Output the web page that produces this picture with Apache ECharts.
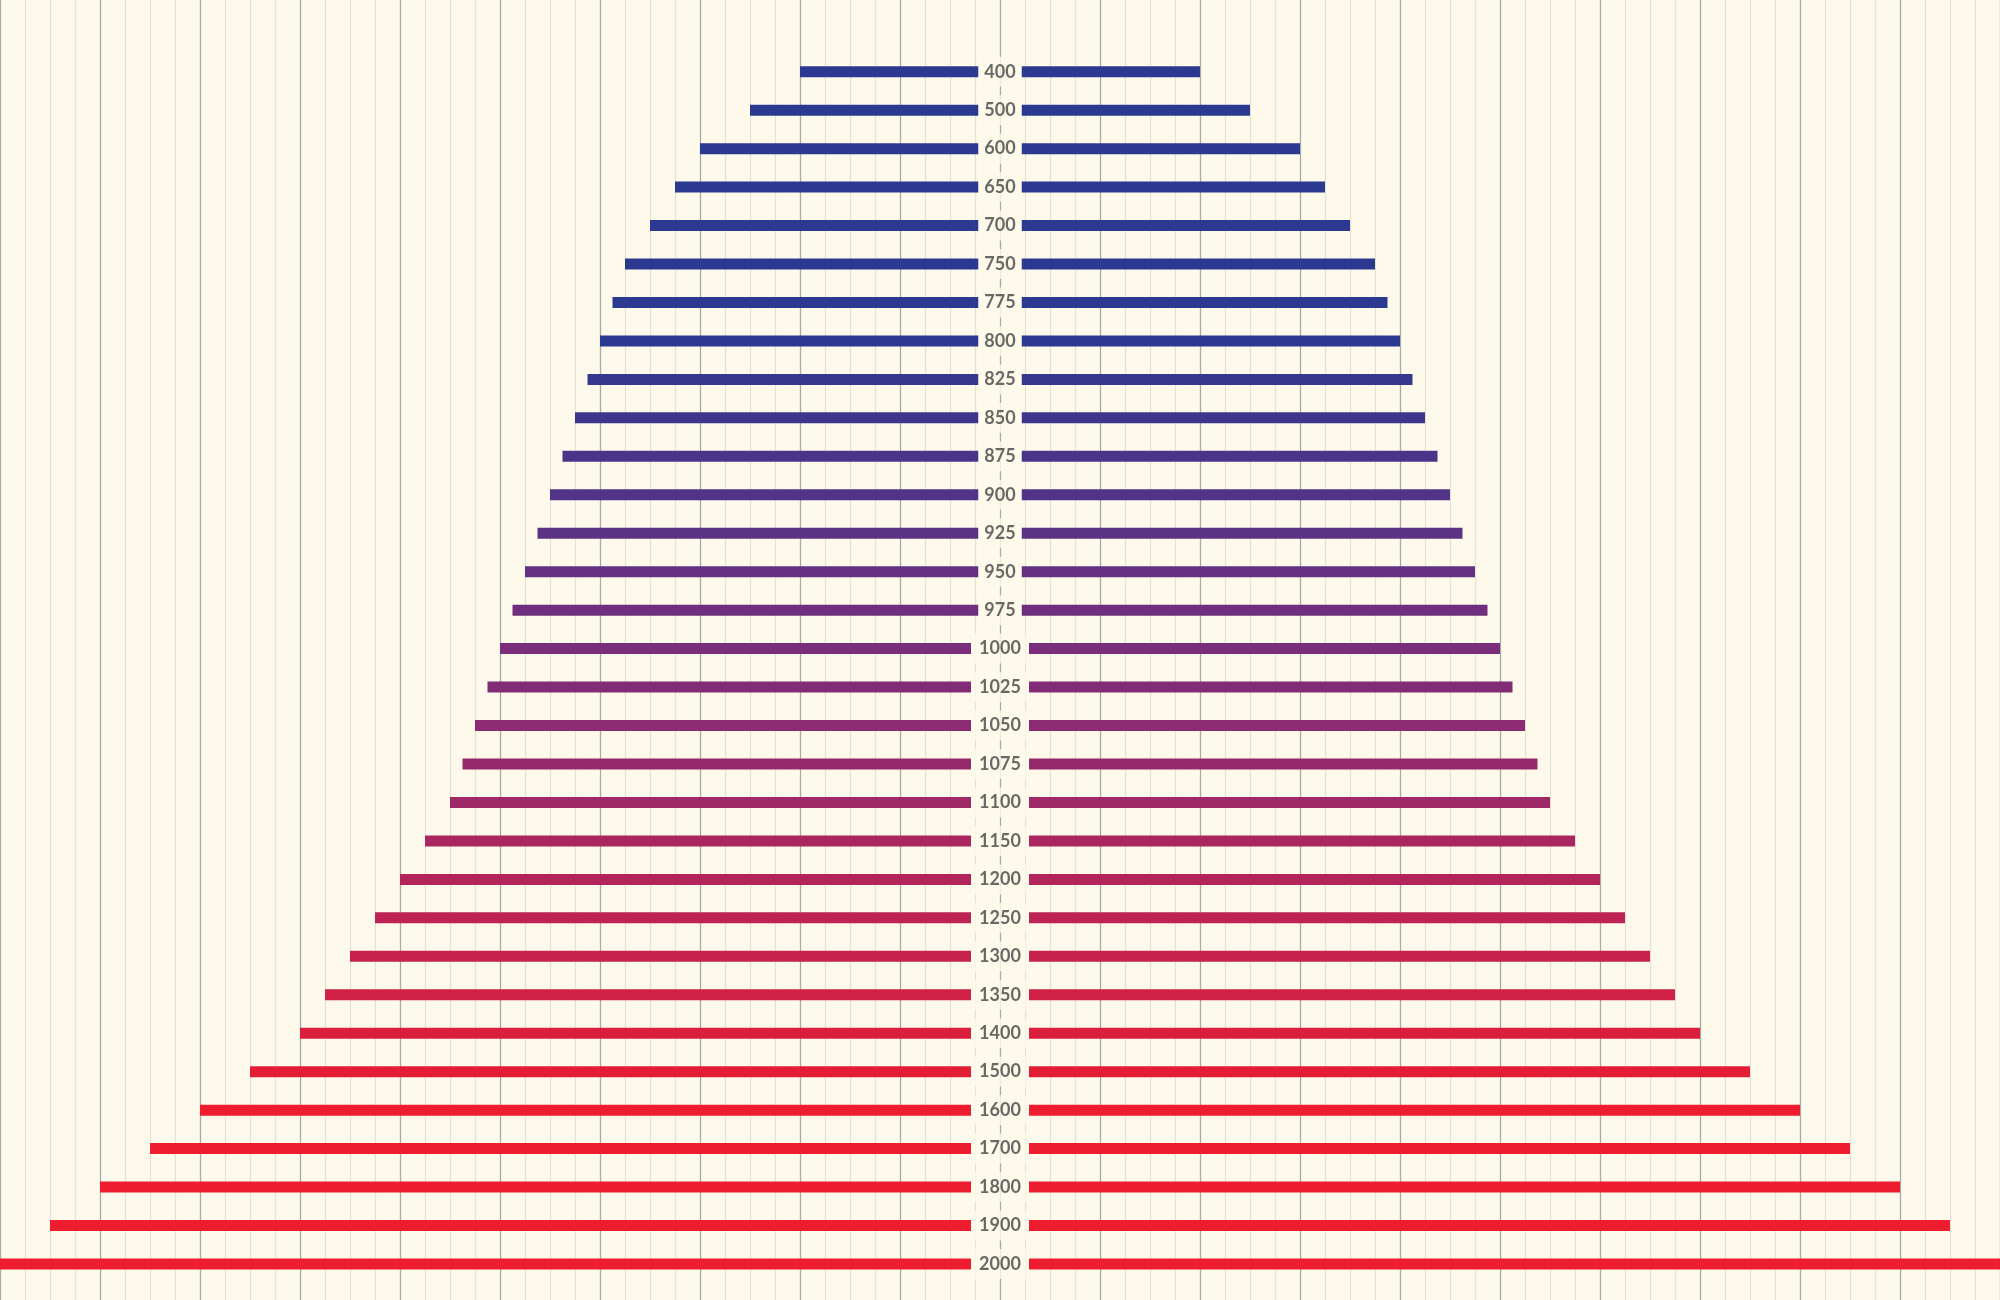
<!DOCTYPE html>
<html>
<head>
<meta charset="utf-8">
<script src="https://cdn.jsdelivr.net/npm/echarts@6/dist/echarts.min.js"></script>
<style>
  html, body { margin: 0; padding: 0; background: #fefaeb; }
  #main { width: 2000px; height: 1300px; }
</style>
</head>
<body>
<div id="main"></div>
<script>
// categories (top to bottom) and bar values, same on both sides
var labels = ['400','500','600','650','700','750','775','800','825','850','875','900','925','950','975',
  '1000','1025','1050','1075','1100','1150','1200','1250','1300','1350','1400','1500','1600','1700','1800','1900','2000'];
var values = [400,500,600,650,700,750,775,800,825,850,875,900,925,950,975,
  1000,1025,1050,1075,1100,1150,1200,1250,1300,1350,1400,1500,1600,1700,1800,1900,2000];

var bg = '#fefaeb';
var blue = [43, 57, 144];
var red = [237, 28, 46];

// blue -> red by row
function rowColor(i) {
  var t = Math.max(0, Math.min(1, (i - 7) / 20));
  var c = blue.map(function (b, k) { return Math.round(b + (red[k] - b) * t); });
  // a touch more blue in the purple middle
  c[2] = Math.round(c[2] + 18 * Math.sin(Math.PI * t));
  return 'rgb(' + c.join(',') + ')';
}
// empty room around the middle label, in axis units
function gapOf(i) {
  return labels[i].length * 14.5;
}

var myChart = echarts.init(document.getElementById('main'));

myChart.setOption({
  backgroundColor: bg,
  animation: false,
  grid: [
    { left: 0, right: 0, top: 0, bottom: 0 },
    { left: 0, right: 0, top: 52.5, bottom: 16.8 }
  ],
  xAxis: [
    // minor grid lines
    { gridIndex: 0, type: 'value', min: -2000, max: 2000, interval: 50, position: 'bottom',
      axisLine: { show: false }, axisTick: { show: false }, axisLabel: { show: false },
      splitLine: { show: true, lineStyle: { color: '#e4e1d6', width: 1.3 } } },
    // major grid lines
    { gridIndex: 0, type: 'value', min: -2000, max: 2000, interval: 200, position: 'top', z: 1,
      axisLine: { show: false }, axisTick: { show: false }, axisLabel: { show: false },
      splitLine: { show: true, lineStyle: { color: '#a9a9a9', width: 1.2 } } },
    // bars
    { gridIndex: 1, type: 'value', min: -2000, max: 2000, show: false,
      splitLine: { show: false } }
  ],
  yAxis: [
    { gridIndex: 0, type: 'value', show: false, splitLine: { show: false } },
    { gridIndex: 1, type: 'category', data: labels, inverse: true, show: false }
  ],
  series: [
    {
      name: 'gapL', type: 'bar', stack: 'all', xAxisIndex: 2, yAxisIndex: 1, barWidth: 11,
      itemStyle: { color: 'rgba(0,0,0,0)' }, silent: true,
      data: values.map(function (v, i) { return -gapOf(i); })
    },
    {
      name: 'left', type: 'bar', stack: 'all', xAxisIndex: 2, yAxisIndex: 1, barWidth: 11,
      itemStyle: { color: function (p) { return rowColor(p.dataIndex); } },
      data: values.map(function (v, i) { return -(v - gapOf(i)); })
    },
    {
      name: 'gapR', type: 'bar', stack: 'all', xAxisIndex: 2, yAxisIndex: 1, barWidth: 11,
      itemStyle: { color: 'rgba(0,0,0,0)' }, silent: true,
      data: values.map(function (v, i) { return gapOf(i); })
    },
    {
      name: 'right', type: 'bar', stack: 'all', xAxisIndex: 2, yAxisIndex: 1, barWidth: 11,
      itemStyle: { color: function (p) { return rowColor(p.dataIndex); } },
      data: values.map(function (v, i) { return v - gapOf(i); })
    },
    {
      name: 'labels', type: 'scatter', xAxisIndex: 2, yAxisIndex: 1, symbolSize: 1, z: 5,
      itemStyle: { color: 'rgba(0,0,0,0)' },
      label: {
        show: true, position: 'inside',
        formatter: function (p) { return labels[p.dataIndex]; },
        fontFamily: 'Lato', fontWeight: 'bold', fontSize: 18, color: '#444444',
        backgroundColor: bg, padding: [6, 5], lineHeight: 18
      },
      data: labels.map(function (c) { return [0, c]; })
    }
  ]
});
</script>
</body>
</html>
